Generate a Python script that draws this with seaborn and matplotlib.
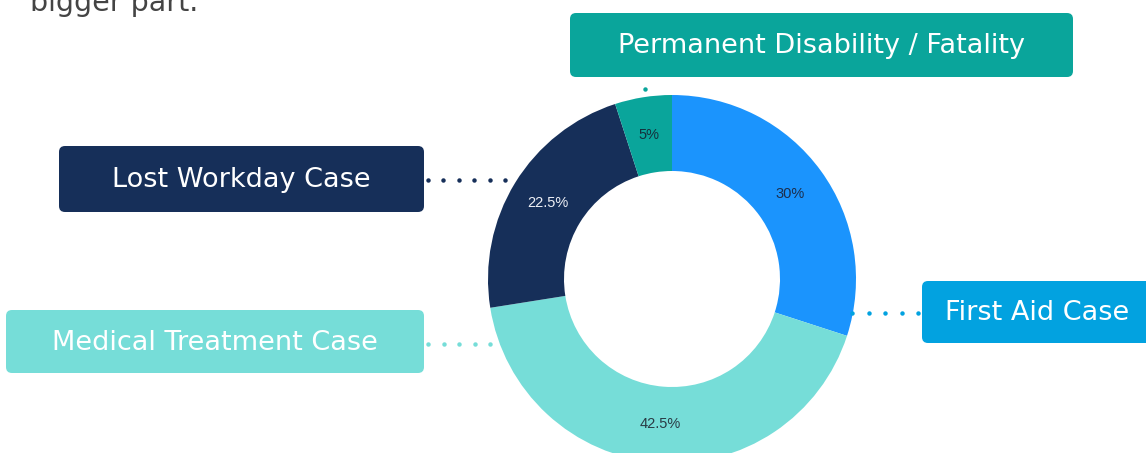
import numpy as np
import matplotlib
matplotlib.use("Agg")
import matplotlib.pyplot as plt
import seaborn as sns
from matplotlib.patches import FancyBboxPatch

# -------------------------------------------------------------------
# Data
# -------------------------------------------------------------------
categories = ["First Aid Case", "Medical Treatment Case", "Lost Workday Case",
              "Permanent Disability / Fatality"]
shares = [30, 42.5, 22.5, 5]

slice_colors = ["#1b94fd", "#76ddd8", "#162f59", "#0aa59b"]
box_colors = ["#02a2e0", "#76ddd8", "#162f59", "#0aa59b"]
pct_colors = ["#1c2e4c", "#2a3b45", "#eef0f6", "#15303c"]

W, H = 1146, 453


def Y(y):
    # image row -> data y
    return H - y


sns.set_theme(style="white")
plt.rcParams["font.family"] = ["DejaVu Sans"]

fig = plt.figure(figsize=(W / 100, H / 100), dpi=100)
ax = fig.add_axes([0, 0, 1, 1])

# -------------------------------------------------------------------
# Donut
# -------------------------------------------------------------------
center = (672, Y(279))
radius = 184
wedges, _, pct_texts = ax.pie(
    shares,
    colors=slice_colors,
    startangle=90,
    counterclock=False,
    radius=radius,
    center=center,
    autopct=lambda p: f"{round(p, 1):g}%",
    pctdistance=0.79,
    wedgeprops=dict(width=76, linewidth=0),
    textprops=dict(fontsize=10.5, family="Liberation Sans"),
)
for t, c in zip(pct_texts, pct_colors):
    t.set_color(c)

# -------------------------------------------------------------------
# Label boxes: (x0, y0, x1, y1, text centre x) in image pixels
# -------------------------------------------------------------------
boxes = [
    (922, 281, 1160, 343, 1037),
    (6, 310, 424, 373, 215),
    (59, 146, 424, 212, 241),
    (570, 13, 1073, 77, 821),
]

for (x0, y0, x1, y1, tx), cat, fc in zip(boxes, categories, box_colors):
    patch = FancyBboxPatch((x0, Y(y1)), x1 - x0, y1 - y0,
                           boxstyle="round,pad=0,rounding_size=6",
                           facecolor=fc, edgecolor="none")
    ax.add_patch(patch)
    ax.text(tx, Y((y0 + y1) / 2 - 2), cat, color="white", fontsize=19.5,
            ha="center", va="center_baseline")

# dotted leaders
leaders = [
    (np.arange(852, 919, 16.5), 313, box_colors[0]),
    (np.arange(428, 502, 15.5), 344, box_colors[1]),
    (np.arange(428, 507, 15.4), 180, box_colors[2]),
]
for xs, y, c in leaders:
    ax.plot(xs, [Y(y)] * len(xs), "o", color=c, markersize=3.2, markeredgewidth=0)
ax.plot([645], [Y(89)], "o", color=box_colors[3], markersize=3.2, markeredgewidth=0)

# cut-off sentence above the chart (cropped in the original too)
ax.text(30, Y(11), "bigger part.", color="#444444", fontsize=20.5, ha="left",
        va="baseline")

ax.set_xlim(0, W)
ax.set_ylim(0, H)
ax.set_aspect("equal")
ax.axis("off")

fig.savefig("out.png", dpi=100)
plt.close(fig)
